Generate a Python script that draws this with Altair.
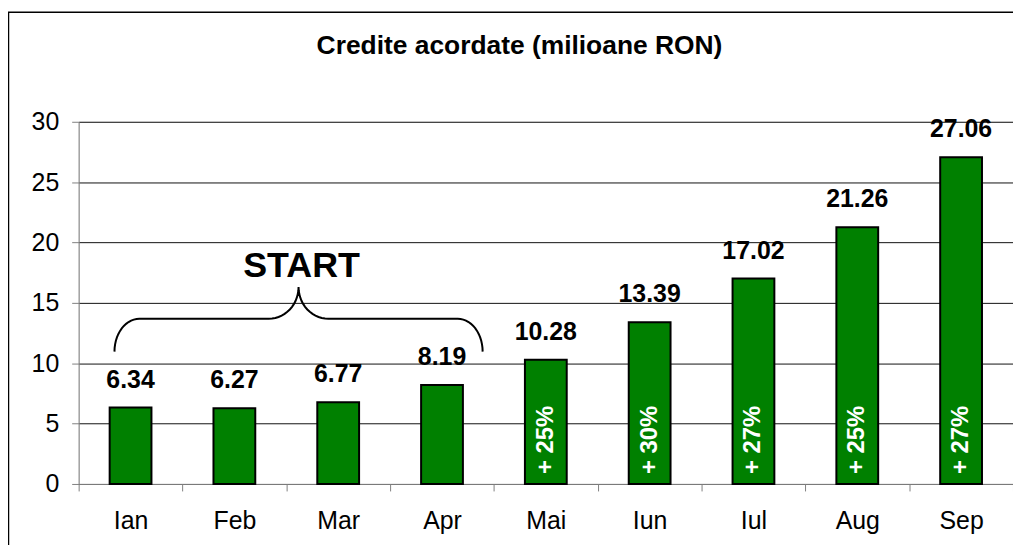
import math
import altair as alt
import pandas as pd

# ---- data ----
months = ["Ian", "Feb", "Mar", "Apr", "Mai", "Iun", "Iul", "Aug", "Sep"]
values = [6.34, 6.27, 6.77, 8.19, 10.28, 13.39, 17.02, 21.26, 27.06]
growth = ["", "", "", "", "+ 25%", "+ 30%", "+ 27%", "+ 25%", "+ 27%"]
y_ticks = [0, 5, 10, 15, 20, 25, 30]
title_text = "Credite acordate (milioane RON)"
start_text = "START"

W, H = 939, 364
FONT = "Liberation Sans"

df = pd.DataFrame({"month": months, "value": values, "growth": growth})

# ---- curly brace annotation over Ian..Apr ----
def arc(cx, cy, rx, ry, a0, a1, n=14):
    pts = []
    for i in range(n + 1):
        a = math.radians(a0 + (a1 - a0) * i / n)
        pts.append((cx + rx * math.cos(a), cy + ry * math.sin(a)))
    return pts

px0, py0 = 79, 121
def to_data(p):
    x, y = p
    return ((x - px0) / (W / 9.0), (485 - y) / (H / 30.0))

path = []
path += arc(140, 352, 25, 33, 180, 270)
path += arc(270, 287, 30, 32, 90, 0)
path += arc(330, 287, 30, 32, 180, 90)
path += arc(460, 352, 25, 33, 270, 360)
brace = pd.DataFrame([to_data(p) for p in path], columns=["bx", "value"])
brace["o"] = range(len(brace))

sx, sy = to_data((303, 277))
start_df = pd.DataFrame({"bx": [sx], "value": [sy], "t": [start_text]})

yscale = alt.Scale(domain=[0, 30], nice=False)
yaxis = alt.Axis(values=y_ticks, grid=True, gridColor="#111111", gridWidth=1, orient="left",
                 tickSize=7, tickColor="#808080", domainColor="#808080",
                 labelFontSize=25, labelColor="black", labelPadding=13, labelFont=FONT)
xscale = alt.Scale(paddingInner=0, paddingOuter=0)
xaxis = alt.Axis(labelAngle=0, tickBand="extent", tickSize=7, tickColor="#808080",
                 domainColor="#808080", labelFontSize=25, labelColor="black",
                 labelPadding=18, grid=False, labelFont=FONT)

base = alt.Chart(df)
bars = base.mark_bar(size=42, color="#008000", stroke="black", strokeWidth=2).encode(
    x=alt.X("month:N", sort=months, title=None, scale=xscale, axis=xaxis),
    y=alt.Y("value:Q", scale=yscale, title=None, axis=yaxis),
)
vals = base.mark_text(dy=-20, baseline="alphabetic", fontWeight="bold", fontSize=25,
                      color="black", font=FONT).encode(
    x=alt.X("month:N", sort=months, title=None, scale=xscale, axis=xaxis),
    y=alt.Y("value:Q", scale=yscale, title=None, axis=yaxis),
    text=alt.Text("value:Q", format=".2f"),
)
pct = base.mark_text(angle=270, align="left", baseline="middle", fontWeight="bold",
                     fontSize=24, color="white", font=FONT).encode(
    x=alt.X("month:N", sort=months, title=None, scale=xscale, axis=xaxis),
    y=alt.value(H - 10),
    text="growth:N",
)
main = alt.layer(bars, vals, pct)

bx_scale = alt.Scale(domain=[0, 9], nice=False, zero=False)
brace_line = alt.Chart(brace).mark_line(color="black", strokeWidth=2).encode(
    x=alt.X("bx:Q", scale=bx_scale, axis=None),
    y=alt.Y("value:Q", scale=yscale, title=None, axis=yaxis),
    order="o:Q",
)
start_lbl = alt.Chart(start_df).mark_text(fontSize=36, fontWeight="bold", baseline="alphabetic",
                                          color="black", font=FONT).encode(
    x=alt.X("bx:Q", scale=bx_scale, axis=None),
    y=alt.Y("value:Q", scale=yscale, title=None, axis=yaxis),
    text="t:N",
)
annot = alt.layer(brace_line, start_lbl)

dummy = pd.DataFrame({"t": [title_text]})
title = alt.Chart(dummy).mark_text(fontSize=26.5, fontWeight="bold", baseline="alphabetic",
                                   color="black", font=FONT).encode(
    x=alt.value(522 - px0), y=alt.value(53 - py0), text="t:N")
frame_top = alt.Chart(dummy).mark_rule(color="black", strokeWidth=1.5).encode(
    x=alt.value(-71), x2=alt.value(W + 20), y=alt.value(11 - py0))
frame_left = alt.Chart(dummy).mark_rule(color="black", strokeWidth=1.5).encode(
    x=alt.value(-70.5), y=alt.value(11 - py0), y2=alt.value(H + 120))

chart = alt.layer(main, annot, title, frame_top, frame_left).resolve_scale(
    x="independent").resolve_axis(x="independent").properties(
    width=W, height=H,
    autosize=alt.AutoSizeParams(type="none"),
    padding={"left": 71, "top": 113, "right": 0, "bottom": 60},
).configure_view(strokeWidth=0).configure(font=FONT)

chart.save("out.html", embed_options={"renderer": "svg", "actions": False})
